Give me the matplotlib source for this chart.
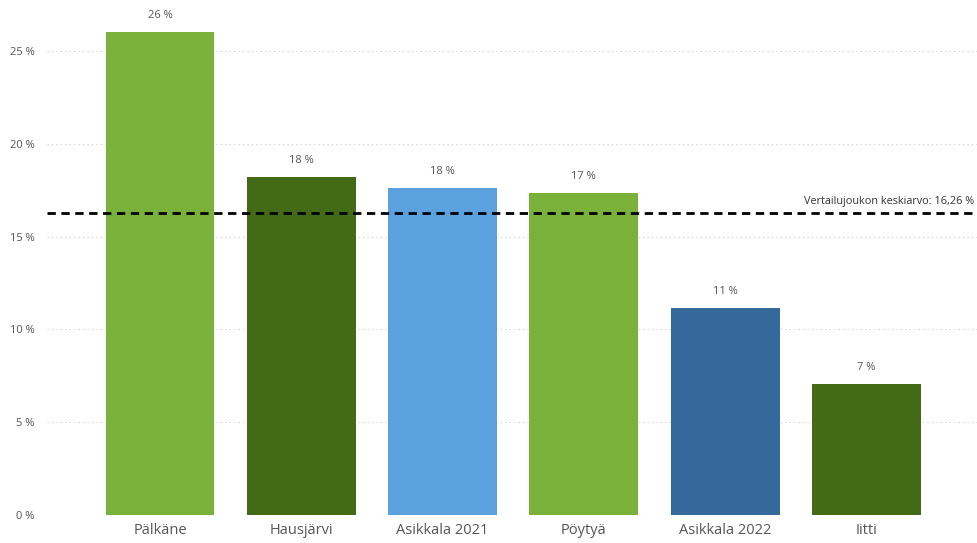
import matplotlib.pyplot as plt
from matplotlib.ticker import FuncFormatter

plt.rcParams['font.family'] = ['Open Sans', 'DejaVu Sans']

kunnat = ["Pälkäne", "Hausjärvi", "Asikkala 2021", "Pöytyä", "Asikkala 2022", "Iitti"]
osuus = [26.0, 18.2, 17.6, 17.35, 11.15, 7.05]
varit = ["#79B13A", "#436B17", "#5BA1DE", "#79B13A", "#35699B", "#436B17"]
keskiarvo = 16.26

fig = plt.figure(figsize=(9.78, 5.43), dpi=100)
ax = fig.add_axes([47 / 978, 28 / 543, 931 / 978, 0.94])

x = range(len(kunnat))
ax.bar(x, osuus, width=0.77, color=varit, zorder=2)

for i, v in enumerate(osuus):
    ax.text(i, v + 0.6, f"{round(v)} %", ha="center", va="bottom",
            fontsize=8, color="#555555")

ax.axhline(keskiarvo, color="black", linestyle=(0, (3, 2)), linewidth=2, zorder=3)
ax.text(len(kunnat) - 0.24, keskiarvo + 0.35,
        "Vertailujoukon keskiarvo: " + f"{keskiarvo:.2f}".replace(".", ",") + " %",
        ha="right", va="bottom", fontsize=7.8, color="#333333")

ax.set_xlim(-0.8, 5.79)
ax.set_ylim(0, 27.5)
ax.set_yticks([0, 5, 10, 15, 20, 25])
ax.yaxis.set_major_formatter(FuncFormatter(lambda v, p: f"{v:.0f} %"))
ax.set_xticks(list(x))
ax.set_xticklabels(kunnat, fontsize=10.5, color="#555555")
ax.tick_params(axis="y", labelsize=8, labelcolor="#555555", length=0, pad=9)
ax.tick_params(axis="x", length=0, pad=6)

ax.grid(axis="y", linestyle=(0, (1, 3)), color="#C8C8C8", linewidth=0.8, zorder=0)
for s in ax.spines.values():
    s.set_visible(False)

fig.savefig("out.png", dpi=100)
